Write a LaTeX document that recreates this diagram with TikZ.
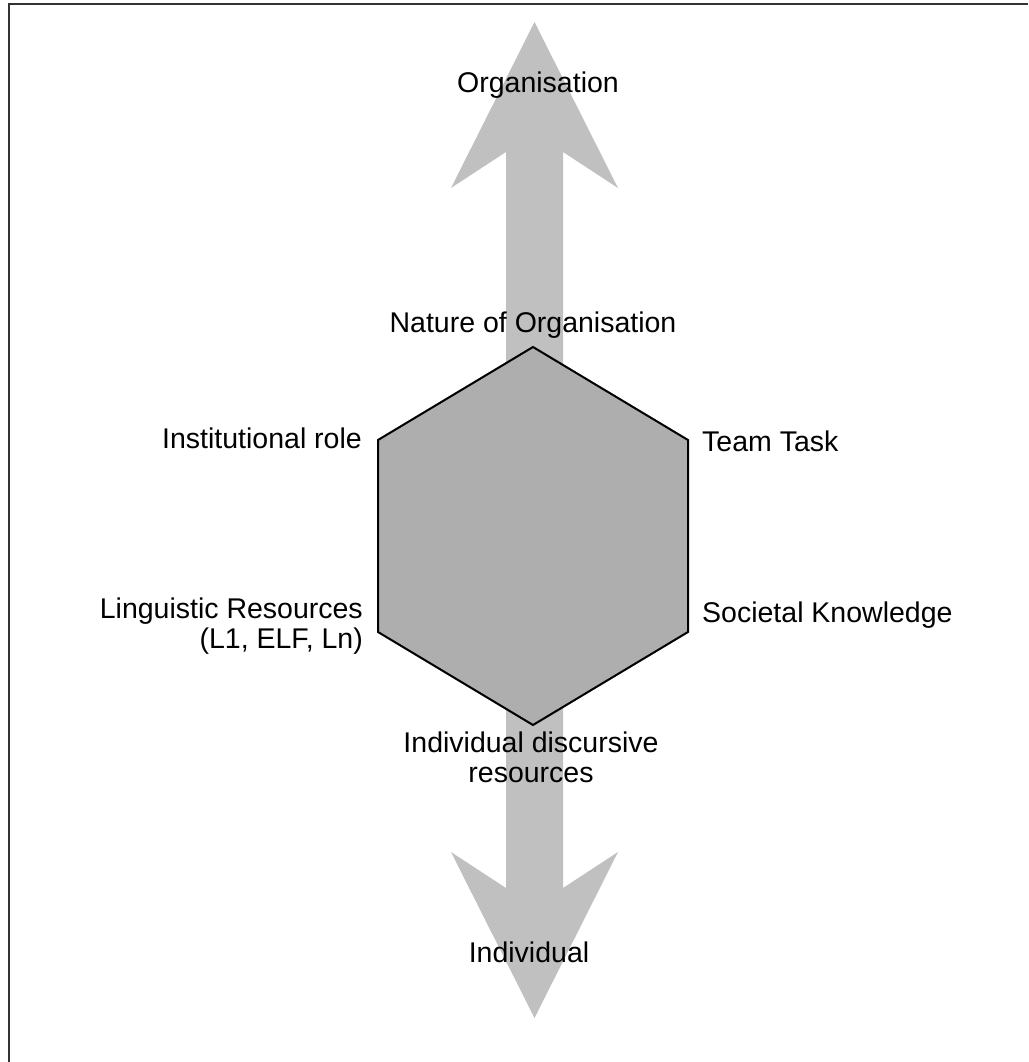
\documentclass[tikz,border=0pt]{standalone}
\usepackage{fontspec}
\setmainfont{Liberation Sans}
\definecolor{arrowgrey}{HTML}{C0C0C0}
\definecolor{hexgrey}{HTML}{AEAEAE}
\begin{document}
\begin{tikzpicture}[x=1pt,y=-1pt,
  lbl/.style={inner sep=0pt, font=\fontsize{28.5}{30}\selectfont, text=black},
  frameline/.style={draw=black!80, line width=2pt}]
\useasboundingbox (0,0) rectangle (1028,1062);
% frame (only top and left edges visible)
\coordinate (fbl) at (8.5,1062);
\coordinate (ftl) at (8.5,4);
\coordinate (ftr) at (1028,4);
\draw[frameline] (fbl) -- (ftl) -- (ftr);
% double-headed arrow
\fill[arrowgrey] (534.5,22) -- (618,188) -- (563,152) -- (563,888) -- (618,852)
  -- (534.5,1018) -- (451,852) -- (506,888) -- (506,152) -- (451,188) -- cycle;
% hexagon
\coordinate (ht) at (533,347);
\coordinate (hur) at (688,440);
\coordinate (hlr) at (688,632);
\coordinate (hb) at (533,725);
\coordinate (hll) at (378,632);
\coordinate (hul) at (378,440);
\draw[fill=hexgrey, line width=2pt, line join=miter] (ht) -- (hur) -- (hlr) -- (hb) -- (hll) -- (hul) -- cycle;
% labels
\node[lbl, anchor=base] (org) at (538,93) {Organisation};
\node[lbl, anchor=base] (nat) at (533,332) {Nature of Organisation};
\node[lbl, anchor=base east] (inst) at (362,448) {Institutional role};
\node[lbl, anchor=base west] (team) at (702,451) {Team Task};
\node[lbl, anchor=base east, align=right] (ling) at (363,648) {Linguistic Resources\\(L1, ELF, Ln)};
\node[lbl, anchor=base west] (soc) at (702,622) {Societal Knowledge};
\node[lbl, anchor=base, align=center] (idr) at (531,782) {Individual discursive\\resources};
\node[lbl, anchor=base] (ind) at (529,962) {Individual};
\end{tikzpicture}
\end{document}
